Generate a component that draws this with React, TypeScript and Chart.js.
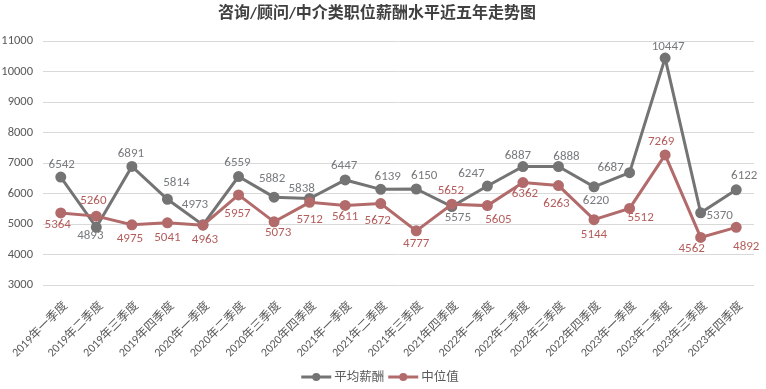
import React, { useEffect, useRef } from 'react';
import { Chart, registerables } from 'chart.js';

Chart.register(...registerables);

const chartTitle = '咨询/顾问/中介类职位薪酬水平近五年走势图';
const categories = [
  '2019年一季度', '2019年二季度', '2019年三季度', '2019年四季度',
  '2020年一季度', '2020年二季度', '2020年三季度', '2020年四季度',
  '2021年一季度', '2021年二季度', '2021年三季度', '2021年四季度',
  '2022年一季度', '2022年二季度', '2022年三季度', '2022年四季度',
  '2023年一季度', '2023年二季度', '2023年三季度', '2023年四季度',
];
const avgLabel = '平均薪酬';
const avgSalary = [6542, 4893, 6891, 5814, 4973, 6559, 5882, 5838, 6447, 6139, 6150, 5575, 6247, 6887, 6888, 6220, 6687, 10447, 5370, 6122];
const medianLabel = '中位值';
const medianSalary = [5364, 5260, 4975, 5041, 4963, 5957, 5073, 5712, 5611, 5672, 4777, 5652, 5605, 6362, 6263, 5144, 5512, 7269, 4562, 4892];
const yMin = 3000;
const yMax = 11000;
const yStep = 1000;

const W = 766;
const H = 389;
const FONT = "Carlito, 'Liberation Sans', 'Noto Sans CJK SC', sans-serif";
const AVG_COLOR = '#747474';
const MED_COLOR = '#B26A6A';

// label offsets (dx, dy) relative to each point, per dataset
const avgLabelOffsets: [number, number][] = [
  [1, -12], [-6, 8], [-1, -13], [9, -16], [-8, -20], [-1, -14], [-2, -18], [-8, -10], [-1, -14], [7, -13],
  [8, -13], [6, 11], [-16, -12], [-5, -11], [8, -10], [2, 14], [-19, -5], [3, -11], [19, 3], [8, -14],
];
const medLabelOffsets: [number, number][] = [
  [-3, 12], [-3, -15], [-2, 14], [0, 15], [2, 15], [-1, 19], [4, 11], [0, 17], [0, 11], [-3, 17],
  [0, 13], [-1, -13], [11, 14], [2, 11], [-2, 18], [0, 15], [11, 9], [-4, -13], [-9, 11], [10, 19],
];

const pointLabelPlugin = {
  id: 'pointLabels',
  afterDatasetsDraw(chart: any, _args: any, opts: any) {
    const ctx = chart.ctx;
    chart.data.datasets.forEach((ds: any, di: number) => {
      const meta = chart.getDatasetMeta(di);
      const offs = opts.offsets[di];
      ctx.save();
      ctx.font = opts.font;
      ctx.fillStyle = opts.colors[di];
      ctx.textAlign = 'center';
      ctx.textBaseline = 'middle';
      meta.data.forEach((el: any, i: number) => {
        const [dx, dy] = offs[i];
        ctx.fillText(String(ds.data[i]), el.x + dx, el.y + dy);
      });
      ctx.restore();
    });
  },
};

const customLegendPlugin = {
  id: 'customLegend',
  afterDraw(chart: any, _args: any, opts: any) {
    const ctx = chart.ctx;
    ctx.save();
    ctx.font = opts.font;
    ctx.textBaseline = 'middle';
    ctx.textAlign = 'left';
    const lineLen = 30;
    const gapText = 3;
    const gapItem = 4;
    const items = chart.data.datasets.map((ds: any) => ({
      label: ds.label,
      color: ds.borderColor,
      w: lineLen + gapText + ctx.measureText(ds.label).width,
    }));
    const total = items.reduce((s: number, it: any) => s + it.w, 0) + gapItem * (items.length - 1);
    let x = opts.centerX - total / 2;
    const y = opts.y;
    items.forEach((it: any) => {
      ctx.strokeStyle = it.color;
      ctx.lineWidth = 3;
      ctx.beginPath();
      ctx.moveTo(x, y);
      ctx.lineTo(x + lineLen, y);
      ctx.stroke();
      ctx.fillStyle = it.color;
      ctx.beginPath();
      ctx.arc(x + lineLen / 2, y, 4, 0, Math.PI * 2);
      ctx.fill();
      ctx.fillStyle = opts.color;
      ctx.fillText(it.label, x + lineLen + gapText, y + 1);
      x += it.w + gapItem;
    });
    ctx.restore();
  },
};

export default function App() {
  const ref = useRef<HTMLCanvasElement | null>(null);

  useEffect(() => {
    document.body.style.margin = '0';
    const canvas = ref.current;
    if (!canvas) return;
    const chart = new Chart(canvas, {
      type: 'line',
      data: {
        labels: categories,
        datasets: [
          {
            label: avgLabel,
            data: avgSalary,
            borderColor: AVG_COLOR,
            backgroundColor: AVG_COLOR,
            pointBackgroundColor: AVG_COLOR,
            pointBorderColor: AVG_COLOR,
            borderWidth: 3,
            pointRadius: 4,
            tension: 0,
            order: 1,
          },
          {
            label: medianLabel,
            data: medianSalary,
            borderColor: MED_COLOR,
            backgroundColor: MED_COLOR,
            pointBackgroundColor: MED_COLOR,
            pointBorderColor: MED_COLOR,
            borderWidth: 3,
            pointRadius: 4,
            tension: 0,
            order: 0,
          },
        ],
      },
      options: {
        responsive: false,
        animation: false,
        devicePixelRatio: 1,
        layout: { padding: { left: 0, right: 12, top: 0, bottom: 0 } },
        plugins: {
          legend: { display: false },
          tooltip: { enabled: false },
          title: {
            display: true,
            text: chartTitle,
            color: '#404040',
            font: { family: FONT, size: 16, weight: 'bold' },
            padding: { top: 4, bottom: 18 },
          },
          pointLabels: {
            font: `13px ${FONT}`,
            colors: ['#787A7E', '#B45E5C'],
            offsets: [avgLabelOffsets, medLabelOffsets],
          },
          customLegend: {
            font: `12.5px ${FONT}`,
            color: '#595959',
            centerX: 380,
            y: 377,
          },
        } as any,
        scales: {
          x: {
            offset: true,
            grid: { display: false },
            border: { display: false },
            ticks: {
              color: '#595959',
              font: { family: FONT, size: 12 },
              minRotation: 45,
              maxRotation: 45,
              autoSkip: false,
              padding: 6,
              labelOffset: 5,
            },
            afterFit(scale: any) {
              scale.height = 104;
            },
          },
          y: {
            min: yMin,
            max: yMax,
            grid: { color: '#D9D9D9', lineWidth: 1, drawTicks: false },
            border: { display: false },
            ticks: {
              stepSize: yStep,
              color: '#595959',
              font: { family: FONT, size: 12.5 },
              padding: 10,
              callback: (v: any) => String(v),
            },
            afterFit(scale: any) {
              scale.width = 43;
            },
          },
        },
      },
      plugins: [pointLabelPlugin, customLegendPlugin],
    });
    return () => chart.destroy();
  }, []);

  return (
    <div style={{ width: W, height: H, background: '#fff' }}>
      <canvas ref={ref} width={W} height={H} style={{ width: W, height: H, display: 'block' }} />
    </div>
  );
}
